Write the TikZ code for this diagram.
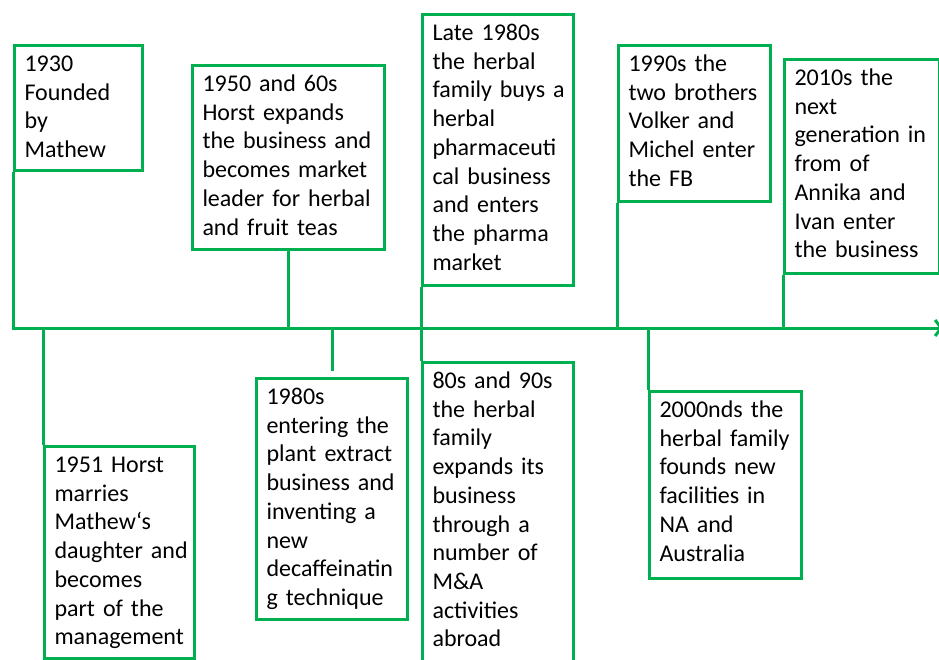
\documentclass[tikz,border=0pt]{standalone}
\usepackage{fontspec}
\setmainfont{Carlito}
\usetikzlibrary{arrows.meta}
\definecolor{tlgreen}{HTML}{00B050}
\begin{document}
\begin{tikzpicture}[x=1pt, y=-1pt,
  event/.style={draw=tlgreen, line width=3pt, anchor=north west, align=left,
    inner xsep=10pt, inner ysep=0pt, text height=26pt,
    font=\fontsize{24pt}{28.7pt}\selectfont},
  conn/.style={draw=tlgreen, line width=3pt},
]
\useasboundingbox (0,0) rectangle (939,659);
\clip (0,0) rectangle (939,659);

% events above the time line
\node[event, text width=108pt, text depth=99pt]  (b1930)  at (13,44)
  {1930\\Founded\\by\\Mathew};
\node[event, text width=172pt, text depth=158pt] (b1950)  at (191,64)
  {1950 and 60s\\Horst expands\\the business and\\becomes market\\leader for herbal\\and fruit teas};
\node[event, text width=131pt, text depth=245pt] (blate)  at (421,13)
  {Late 1980s\\the herbal\\family~buys~a\\herbal\\pharmaceuti\\cal business\\and enters\\the pharma\\market};
\node[event, text width=132pt, text depth=130pt] (b1990)  at (617,44)
  {1990s the\\two~brothers\\Volker and\\Michel enter\\the FB};
\node[event, text width=135pt, text depth=188pt] (b2010)  at (783,58)
  {2010s the\\next\\generation~in\\from of\\Annika and\\Ivan enter\\the business};

% events below the time line
\node[event, text width=130pt, text depth=186pt] (b1951)  at (43,445)
  {1951 Horst\\marries\\Mathew‘s\\daughter~and\\becomes\\part of the\\management};
\node[event, text width=131pt, text depth=215pt] (b1980)  at (255,377)
  {1980s\\entering the\\plant extract\\business~and\\inventing a\\new\\decaffeinatin\\g technique};
\node[event, text width=131pt, text depth=293pt] (b8090)  at (421,361)
  {80s and 90s\\the herbal\\family\\expands its\\business\\through a\\number of\\M\&A\\activities\\abroad};
\node[event, text width=132pt, text depth=161pt] (b2000)  at (648,390)
  {2000nds the\\herbal~family\\founds new\\facilities in\\NA and\\Australia};

% time line
\coordinate (axisend) at (943,328);
\draw[conn, -{Straight Barb[length=6pt, width=16pt, line width=3pt]}]
  (b1930.south west) |- (axisend);
\coordinate (axis) at (13,328);

% connectors from the events to the time line
\draw[conn] (b1950.south) -- (b1950.south |- axis);
\draw[conn] (blate.south west) -- (b8090.north west);
\draw[conn] (b1990.south west) -- (b1990.south west |- axis);
\draw[conn] (b2010.south west) -- (b2010.south west |- axis);
\draw[conn] (b1951.north west |- axis) -- (b1951.north west);
\draw[conn, shorten >=6pt] (b1980.north |- axis) -- (b1980.north);
\draw[conn] (b2000.north west |- axis) -- (b2000.north west);
\end{tikzpicture}
\end{document}
